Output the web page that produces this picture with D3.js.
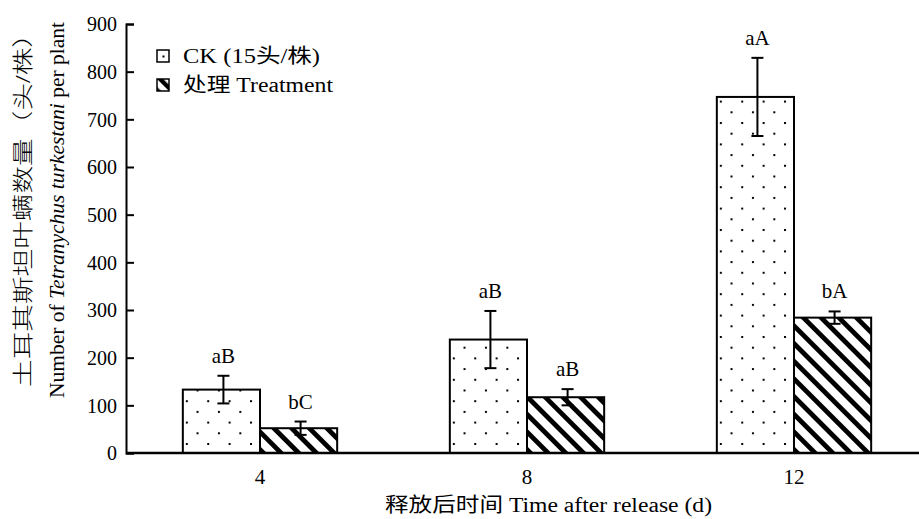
<!DOCTYPE html>
<html>
<head>
<meta charset="utf-8">
<script src="https://cdn.jsdelivr.net/npm/d3@7"></script>
<style>
  html, body { margin: 0; padding: 0; background: #fff; }
  svg { display: block; }
  text { font-family: "Liberation Serif", "Times New Roman", "Noto Sans CJK SC", serif; fill: #000; }
</style>
</head>
<body>
<svg id="chart" width="919" height="519"></svg>
<script>
// Days after release
const days = ["4", "8", "12"];
// Series
const seriesKeys = ["ck", "treat"];
const seriesNames = ["CK (15头/株)", "处理 Treatment"];
// Mean number of mites per plant
const ckMeans = [133, 238, 747];
const treatMeans = [52, 117, 284];
// Standard errors
const ckErrors = [29, 60, 82];
const treatErrors = [14, 17, 13];
// Significance letters
const ckLetters = ["aB", "aB", "aA"];
const treatLetters = ["bC", "aB", "bA"];
// Y-axis ticks
const yTicks = [0, 100, 200, 300, 400, 500, 600, 700, 800, 900];

const svg = d3.select("#chart");
const margin = { left: 126, top: 24, bottom: 453 };

const x = d3.scaleBand().domain(days).range([126.5, 927.5]).paddingInner(0).paddingOuter(0);
const xInner = d3.scaleBand().domain(seriesKeys)
  .range([0, x.bandwidth()]).paddingInner(0).paddingOuter(0.73);
const y = d3.scaleLinear().domain([0, 900]).range([margin.bottom, margin.top]);

const rows = days.map((d, i) => [
  { day: d, key: "ck", mean: ckMeans[i], err: ckErrors[i], letter: ckLetters[i] },
  { day: d, key: "treat", mean: treatMeans[i], err: treatErrors[i], letter: treatLetters[i] }
]).flat();

const defs = svg.append("defs");
const HATCH = 12.5, HATCH_INK = 4.8, DOT = 21.4;

// Dot fill anchored to each bar, diagonal hatch for the treatment bars
rows.forEach((r, i) => {
  const bx = x(r.day) + xInner(r.key);
  if (r.key === "ck") {
    const p = defs.append("pattern").attr("id", "pat" + i)
      .attr("patternUnits", "userSpaceOnUse")
      .attr("width", DOT).attr("height", DOT)
      .attr("x", bx + 3).attr("y", y(0) - 10);
    p.append("rect").attr("width", DOT).attr("height", DOT).attr("fill", "#fff");
    p.append("rect").attr("x", 0).attr("y", 0).attr("width", 2).attr("height", 2).attr("fill", "#000");
    p.append("rect").attr("x", DOT / 2).attr("y", DOT / 2).attr("width", 2).attr("height", 2).attr("fill", "#000");
  } else {
    const p = defs.append("pattern").attr("id", "pat" + i)
      .attr("patternUnits", "userSpaceOnUse")
      .attr("width", HATCH).attr("height", HATCH)
      .attr("x", bx).attr("y", 0)
      .attr("patternTransform", "rotate(-45 " + bx + " " + y(0) + ")");
    p.append("rect").attr("width", HATCH).attr("height", HATCH).attr("fill", "#fff");
    p.append("rect").attr("x", 0).attr("y", 0).attr("width", HATCH_INK).attr("height", HATCH).attr("fill", "#000");
  }
});

// Legend swatch fills
const lg = defs.append("pattern").attr("id", "legDot")
  .attr("patternUnits", "userSpaceOnUse").attr("width", 13).attr("height", 13)
  .attr("x", 157).attr("y", 50);
lg.append("rect").attr("width", 13).attr("height", 13).attr("fill", "#fff");
lg.append("rect").attr("x", 5.5).attr("y", 5.5).attr("width", 2).attr("height", 2).attr("fill", "#000");
const lh = defs.append("pattern").attr("id", "legHatch")
  .attr("patternUnits", "userSpaceOnUse").attr("width", 10).attr("height", 10)
  .attr("x", 157).attr("y", 0)
  .attr("patternTransform", "rotate(-45 157 79)");
lh.append("rect").attr("width", 10).attr("height", 10).attr("fill", "#fff");
lh.append("rect").attr("x", 0).attr("y", 0).attr("width", 4.4).attr("height", 10).attr("fill", "#000");

// Bars
svg.append("g").selectAll("rect").data(rows).join("rect")
  .attr("x", d => x(d.day) + xInner(d.key))
  .attr("y", d => y(d.mean))
  .attr("width", xInner.bandwidth())
  .attr("height", d => y(0) - y(d.mean))
  .attr("fill", (d, i) => "url(#pat" + i + ")")
  .attr("stroke", "#000").attr("stroke-width", 2);

// Error bars
const eb = svg.append("g").attr("stroke", "#000").attr("stroke-width", 2);
rows.forEach(r => {
  const cx = x(r.day) + xInner(r.key) + xInner.bandwidth() / 2 + 2;
  eb.append("line").attr("x1", cx).attr("x2", cx).attr("y1", y(r.mean + r.err)).attr("y2", y(r.mean - r.err));
  eb.append("line").attr("x1", cx - 6).attr("x2", cx + 6).attr("y1", y(r.mean + r.err)).attr("y2", y(r.mean + r.err));
  eb.append("line").attr("x1", cx - 6).attr("x2", cx + 6).attr("y1", y(r.mean - r.err)).attr("y2", y(r.mean - r.err));
});

// Significance letters
svg.append("g").selectAll("text").data(rows).join("text")
  .attr("x", d => x(d.day) + xInner(d.key) + xInner.bandwidth() / 2 + 2)
  .attr("y", d => y(d.mean + d.err) - 13)
  .attr("text-anchor", "middle").attr("font-size", 21)
  .text(d => d.letter);

// Y axis
const yAxis = svg.append("g").attr("transform", `translate(${margin.left},0)`)
  .call(d3.axisLeft(y).tickValues(yTicks).tickSize(-8).tickPadding(9));
yAxis.attr("font-family", null);
yAxis.select(".domain").attr("stroke", "#000").attr("stroke-width", 2);
yAxis.selectAll(".tick line").attr("stroke", "#000").attr("stroke-width", 2);
yAxis.selectAll(".tick text").attr("font-size", 20).attr("dy", "0.34em");

// X axis
const xAxis = svg.append("g").attr("transform", `translate(0,${margin.bottom})`)
  .call(d3.axisBottom(x).tickSize(0).tickPadding(16));
xAxis.attr("font-family", null);
xAxis.select(".domain").attr("stroke", "#000").attr("stroke-width", 2.5)
  .attr("d", `M${margin.left},0H919`);
xAxis.selectAll(".tick text").attr("font-size", 21);

// Axis titles (wide serif set, stretched to their full run)
svg.append("text").attr("x", 385).attr("y", 512).attr("font-size", 20)
  .attr("textLength", 327).attr("lengthAdjust", "spacingAndGlyphs")
  .text("释放后时间 Time after release (d)");

svg.append("text").attr("transform", "translate(30,387) rotate(-90)")
  .attr("font-size", 21).attr("font-weight", 300)
  .attr("textLength", 367).attr("lengthAdjust", "spacingAndGlyphs")
  .text("土耳其斯坦叶螨数量（头/株）");
const yt2 = svg.append("text").attr("transform", "translate(64,398) rotate(-90)")
  .attr("font-size", 20).attr("textLength", 376).attr("lengthAdjust", "spacingAndGlyphs");
yt2.append("tspan").text("Number of ");
yt2.append("tspan").attr("font-style", "italic").text("Tetranychus turkestani");
yt2.append("tspan").text(" per plant");

// Legend
const legend = svg.append("g");
const legendFills = ["url(#legDot)", "url(#legHatch)"];
const legendY = [50, 79];
const legendWidths = [137, 150];
seriesNames.forEach((name, i) => {
  legend.append("rect").attr("x", 157).attr("y", legendY[i]).attr("width", 12).attr("height", 12)
    .attr("fill", legendFills[i]).attr("stroke", "#000").attr("stroke-width", 1.5);
  legend.append("text").attr("x", 183).attr("y", legendY[i] + 13).attr("font-size", 20)
    .attr("textLength", legendWidths[i]).attr("lengthAdjust", "spacingAndGlyphs").text(name);
});
</script>
</body>
</html>
